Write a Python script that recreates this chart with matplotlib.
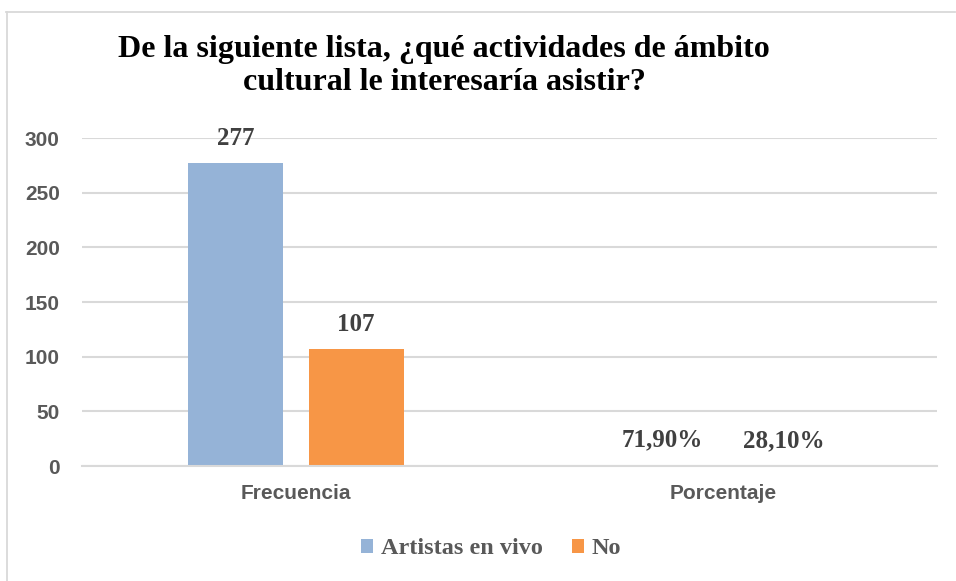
import matplotlib
matplotlib.use("Agg")
import matplotlib.pyplot as plt
from matplotlib.lines import Line2D

categories = ["Frecuencia", "Porcentaje"]
series_names = ["Artistas en vivo", "No"]
artistas = [277, 0.719]
no_vals = [107, 0.281]
label_artistas = ["277", "71,90%"]
label_no = ["107", "28,10%"]
yticks = [0, 50, 100, 150, 200, 250, 300]

W, H = 956, 581
fig = plt.figure(figsize=(W / 100, H / 100), dpi=100)
fig.patch.set_facecolor("white")
fig.lines.append(Line2D([6 / W, 955 / W], [1 - 11.5 / H, 1 - 11.5 / H], transform=fig.transFigure,
                        color="#D9D9D9", linewidth=1.3))
fig.lines.append(Line2D([6.5 / W, 6.5 / W], [0, 1 - 11.5 / H], transform=fig.transFigure,
                        color="#D9D9D9", linewidth=1.3))

ax = fig.add_axes([82 / W, 1 - 466 / H, (937 - 82) / W, (466 - 138) / H])
blue = "#95B3D7"
orange = "#F79646"
bw = 0.222
off = 0.1415
x = list(range(len(categories)))
b1 = ax.bar([i - off for i in x], artistas, width=bw, color=blue, label=series_names[0], zorder=3)
b2 = ax.bar([i + off for i in x], no_vals, width=bw, color=orange, label=series_names[1], zorder=3)

for bars, labels in ((b1, label_artistas), (b2, label_no)):
    for r, t in zip(bars, labels):
        ax.annotate(t, (r.get_x() + r.get_width() / 2, r.get_height()), xytext=(0, 18),
                    textcoords="offset points", ha="center", va="center",
                    fontfamily="Liberation Serif", fontweight="bold", fontsize=18, color="#404040")

ax.set_xlim(-0.5, 1.5)
ax.set_ylim(0, 300)
ax.set_yticks(yticks)
ax.set_xticks(x)
ax.set_xticklabels(categories)
for lab in ax.get_yticklabels() + ax.get_xticklabels():
    lab.set_fontfamily("Liberation Sans")
    lab.set_fontweight("bold")
    lab.set_fontsize(15)
    lab.set_color("#595959")
ax.tick_params(axis="both", length=0)
ax.tick_params(axis="y", pad=16)
ax.tick_params(axis="x", pad=13)
ax.grid(axis="y", color="#D9D9D9", linewidth=1.5, zorder=0)
for s in ("top", "right", "left"):
    ax.spines[s].set_visible(False)
ax.spines["bottom"].set_color("#D9D9D9")
ax.spines["bottom"].set_linewidth(1.5)
ax.spines["bottom"].set_zorder(5)

fig.text(444 / W, 1 - 66 / H, "De la siguiente lista, ¿qué actividades de ámbito\ncultural le interesaría asistir?",
         ha="center", va="center", multialignment="center", fontfamily="Liberation Serif",
         fontweight="bold", fontsize=23, color="black", linespacing=1.15)

leg = fig.legend(handles=[b1, b2], labels=series_names, loc="center", bbox_to_anchor=(491 / W, 1 - 549 / H),
                 ncol=2, frameon=False, handlelength=0.5, handleheight=0.5, handletextpad=0.3,
                 columnspacing=1.2, prop={"family": "Liberation Serif", "weight": "bold", "size": 17.5})
for t in leg.get_texts():
    t.set_color("#595959")

fig.savefig("out.png", dpi=100)
